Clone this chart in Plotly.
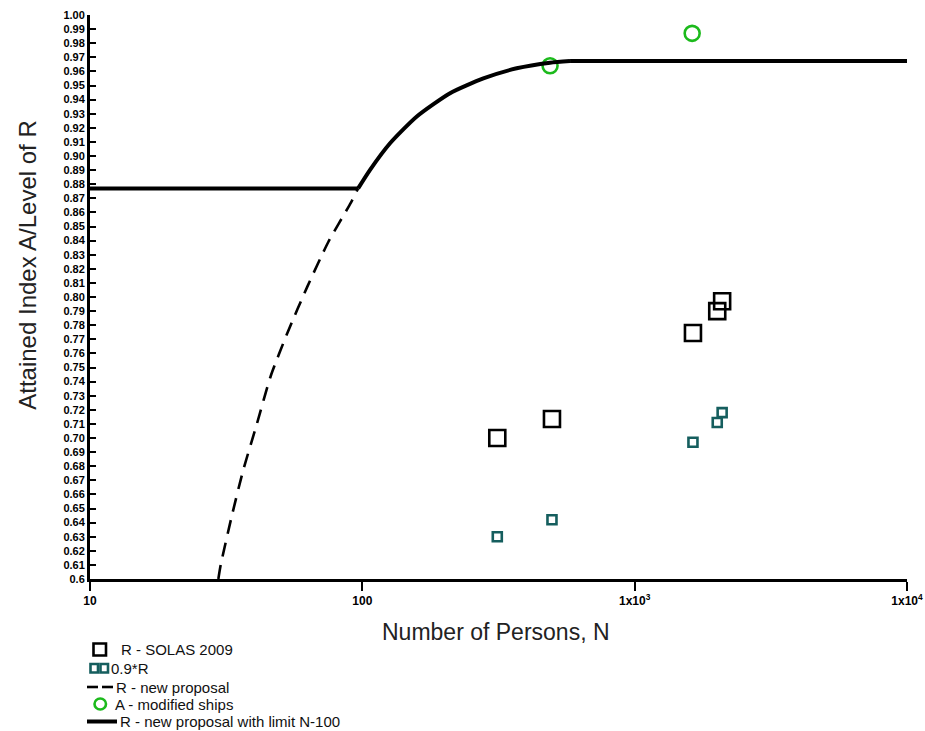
import plotly.graph_objects as go

# ---- data ----
solas_N = [313, 497, 1637, 2010, 2095]
solas_R = [0.700, 0.7135, 0.7745, 0.790, 0.797]

r09_N = [313, 497, 1637, 2010, 2095]
r09_R = [0.630, 0.642, 0.697, 0.711, 0.718]

mod_N = [489, 1626]
mod_A = [0.964, 0.987]

dashed_N = [29.6, 30.2, 33.1, 36.5, 41.0, 46.1, 53.2, 62.7, 75.0, 90.8, 96.5]
dashed_R = [0.600, 0.610, 0.644, 0.677, 0.710, 0.744, 0.775, 0.807, 0.839, 0.867, 0.877]

limit_flat_N = [10, 96.5]
limit_flat_R = [0.877, 0.877]
limit_curve_N = [96.5, 106.6, 126.4, 158.5, 209.9, 278.2, 368.7, 488.8, 579]
limit_curve_R = [0.877, 0.890, 0.909, 0.928, 0.9445, 0.955, 0.9622, 0.9662, 0.9674]
limit_top_N = [579, 10000]
limit_top_R = [0.9674, 0.9674]

x_tick_vals = [10, 100, 1000, 10000]
x_tick_text = ["10", "100", "1x10<sup>3</sup>", "1x10<sup>4</sup>"]

y_tick_vals = [0.60, 0.61, 0.62, 0.63, 0.64, 0.65, 0.66, 0.67, 0.68, 0.69,
               0.70, 0.71, 0.72, 0.73, 0.74, 0.75, 0.76, 0.77, 0.78, 0.79,
               0.80, 0.81, 0.82, 0.83, 0.84, 0.85, 0.86, 0.87, 0.88, 0.89,
               0.90, 0.91, 0.92, 0.93, 0.94, 0.95, 0.96, 0.97, 0.98, 0.99, 1.00]
y_tick_text = ["0.6", "0.61", "0.62", "0.63", "0.64", "0.65", "0.66", "0.67", "0.68", "0.69",
               "0.70", "0.71", "0.72", "0.73", "0.74", "0.75", "0.76", "0.77", "0.78", "0.79",
               "0.80", "0.81", "0.82", "0.83", "0.84", "0.85", "0.86", "0.87", "0.88", "0.89",
               "0.90", "0.91", "0.92", "0.93", "0.94", "0.95", "0.96", "0.97", "0.98", "0.99", "1.00"]

legend_labels = ["R - SOLAS 2009", "0.9*R", "R - new proposal", "A - modified ships",
                 "R - new proposal with limit N-100"]

FONT = "Liberation Sans, Arial, sans-serif"
TEAL = "#155e5e"
GREEN = "#1cba1c"

W, H = 925, 731
ML, MR, MT, MB = 90, 18, 15, 152
PW, PH = W - ML - MR, H - MT - MB


def px(x):
    return (x - ML) / PW


def py(y):
    return (H - MB - y) / PH


fig = go.Figure()

fig.add_trace(go.Scatter(
    x=solas_N, y=solas_R, mode="markers", name=legend_labels[0],
    marker=dict(symbol="square-open", size=16, color="black", line=dict(width=2.6)),
))
fig.add_trace(go.Scatter(
    x=r09_N, y=r09_R, mode="markers", name=legend_labels[1],
    marker=dict(symbol="square-open", size=9, color=TEAL, line=dict(width=2.6)),
))
fig.add_trace(go.Scatter(
    x=dashed_N, y=dashed_R, mode="lines", name=legend_labels[2],
    line=dict(color="black", width=2.6, dash="14px,9px", shape="spline", smoothing=0.6),
))
fig.add_trace(go.Scatter(
    x=mod_N, y=mod_A, mode="markers", name=legend_labels[3],
    marker=dict(symbol="circle-open", size=15, color=GREEN, line=dict(width=2.6)),
))
fig.add_trace(go.Scatter(
    x=limit_flat_N, y=limit_flat_R, mode="lines", name=legend_labels[4],
    line=dict(color="black", width=4),
))
fig.add_trace(go.Scatter(
    x=limit_curve_N, y=limit_curve_R, mode="lines",
    line=dict(color="black", width=4, shape="spline", smoothing=0.6),
))
fig.add_trace(go.Scatter(
    x=limit_top_N, y=limit_top_R, mode="lines",
    line=dict(color="black", width=4),
))

# ---- hand-made legend (compact, as in the reference) ----
shapes = []
annotations = []
row_y = [649.5, 668, 687, 704, 721]
text_x = [119, 109, 114, 113, 118]
shapes.append(dict(type="rect", xref="paper", yref="paper",
                   x0=px(93.5), x1=px(106), y0=py(643.5), y1=py(655.5),
                   line=dict(color="black", width=2.6)))
for a, b in [(90.5, 98), (100.5, 108)]:
    shapes.append(dict(type="rect", xref="paper", yref="paper",
                       x0=px(a), x1=px(b), y0=py(664), y1=py(672.5),
                       line=dict(color=TEAL, width=2.6)))
for a, b in [(87, 98), (102, 113)]:
    shapes.append(dict(type="line", xref="paper", yref="paper",
                       x0=px(a), x1=px(b), y0=py(687), y1=py(687),
                       line=dict(color="black", width=2.6)))
shapes.append(dict(type="circle", xref="paper", yref="paper",
                   x0=px(94.5), x1=px(106), y0=py(698.5), y1=py(709.5),
                   line=dict(color=GREEN, width=2.6)))
shapes.append(dict(type="line", xref="paper", yref="paper",
                   x0=px(87), x1=px(117), y0=py(721.5), y1=py(721.5),
                   line=dict(color="black", width=4)))
for lab, yy, xx in zip(legend_labels, row_y, text_x):
    annotations.append(dict(text=lab, xref="paper", yref="paper", x=px(xx), y=py(yy),
                            xanchor="left", yanchor="middle", showarrow=False,
                            font=dict(family=FONT, size=15, color="#111")))

annotations += [
    dict(text="Number of Persons, N", xref="paper", yref="paper", x=0.497, y=-0.094,
         xanchor="center", yanchor="middle", showarrow=False,
         font=dict(family=FONT, size=23, color="#222")),
    dict(text="Attained Index A/Level of R", xref="paper", yref="paper", x=-0.076, y=0.557,
         xanchor="center", yanchor="middle", showarrow=False, textangle=-90,
         font=dict(family=FONT, size=24, color="#222")),
]

fig.update_layout(
    width=W, height=H,
    margin=dict(l=ML, r=MR, t=MT, b=MB, autoexpand=False),
    paper_bgcolor="white", plot_bgcolor="white",
    font=dict(family=FONT, color="black"),
    showlegend=False,
    xaxis=dict(type="log", range=[1, 4], showline=True, linewidth=3, linecolor="black",
               showgrid=False, zeroline=False, ticks="outside", ticklen=9, tickwidth=2,
               tickcolor="black", tickvals=x_tick_vals, ticktext=x_tick_text,
               tickfont=dict(family=FONT, size=12, color="black", weight="bold")),
    yaxis=dict(range=[0.6, 1.0], showline=True, linewidth=3, linecolor="black",
               showgrid=False, zeroline=False, ticks="inside", ticklen=6, tickwidth=2,
               tickcolor="black", tickvals=y_tick_vals, ticktext=y_tick_text,
               tickfont=dict(family=FONT, size=11, color="black", weight="bold")),
    shapes=shapes,
    annotations=annotations,
)

fig.write_html("out.html")
